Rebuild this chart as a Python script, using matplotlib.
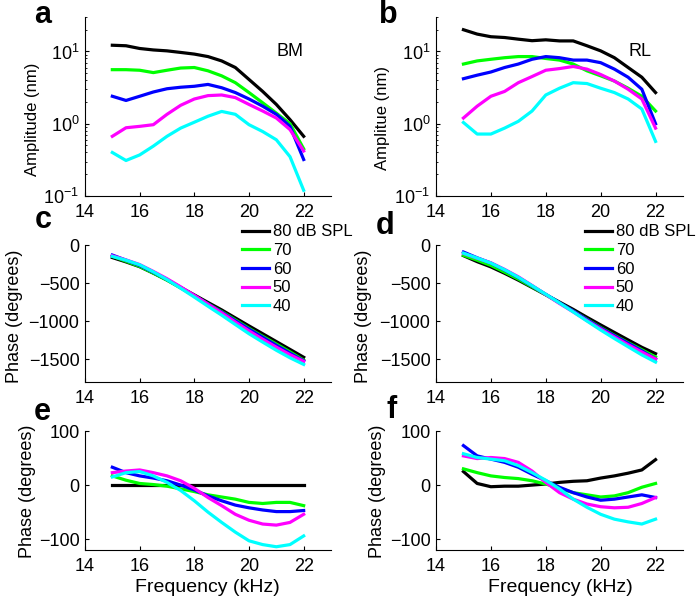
import numpy as np
import matplotlib.pyplot as plt

plt.rcParams['font.family'] = ['Liberation Sans', 'DejaVu Sans']
plt.rcParams['mathtext.fontset'] = 'custom'
plt.rcParams['mathtext.rm'] = 'Liberation Sans'
plt.rcParams['mathtext.default'] = 'regular'

# frequency grid (kHz)
freq = np.arange(15, 22.01, 0.5)

levels = ['80 dB SPL', '70', '60', '50', '40']
colors = ['#000000', '#00ff00', '#0000ff', '#ff00ff', '#00ffff']

# BM amplitude (nm)
bm_amp = [
    [12.2, 12.0, 11.0, 10.5, 10.2, 9.7, 9.2, 8.5, 7.4, 6.0, 4.1, 2.8, 1.85, 1.14, 0.67],
    [5.6, 5.6, 5.5, 5.1, 5.5, 5.9, 6.0, 5.4, 4.6, 3.7, 2.7, 1.95, 1.4, 1.0, 0.45],
    [2.4, 2.1, 2.4, 2.75, 3.05, 3.2, 3.3, 3.5, 3.15, 2.7, 2.2, 1.75, 1.35, 0.92, 0.32],
    [0.67, 0.88, 0.92, 0.97, 1.35, 1.8, 2.2, 2.45, 2.5, 2.3, 1.85, 1.5, 1.2, 0.83, 0.42],
    [0.40, 0.31, 0.37, 0.49, 0.67, 0.87, 1.05, 1.27, 1.48, 1.35, 0.97, 0.78, 0.6, 0.35, 0.12],
]

# RL amplitude (nm)
rl_amp = [
    [20, 17.4, 16, 15.6, 14.8, 14.1, 14.5, 14.0, 14.0, 12.0, 10.2, 8.2, 6.0, 4.4, 2.7],
    [6.7, 7.4, 7.8, 8.2, 8.5, 8.5, 8.0, 7.6, 6.7, 5.4, 4.6, 3.9, 3.1, 2.4, 1.5],
    [4.2, 4.7, 5.2, 6.0, 6.7, 7.8, 8.5, 8.2, 7.6, 7.6, 7.0, 5.7, 4.4, 3.0, 1.0],
    [1.2, 1.75, 2.4, 2.8, 3.7, 4.5, 5.5, 5.8, 6.2, 5.7, 4.8, 3.9, 3.0, 2.2, 0.87],
    [1.04, 0.72, 0.72, 0.87, 1.08, 1.5, 2.5, 3.1, 3.7, 3.6, 3.1, 2.7, 2.2, 1.6, 0.57],
]

# BM phase at 80 dB SPL (degrees)
bm80_phase = np.array([-165, -222, -285, -370, -460, -558, -656, -755,
                       -853, -958, -1063, -1166, -1269, -1372, -1475])

# BM phase relative to 80 dB SPL (panel e)
bm_rel = [
    [0] * 15,
    [17, 9, 3, 1, -2, -7, -12, -18, -22, -26, -32, -34, -32, -32, -38],
    [33, 23, 17, 13, 8, 0, -9, -20, -29, -37, -42, -46, -49, -49, -47],
    [23, 26, 28, 23, 17, 8, -6, -23, -38, -54, -65, -72, -74, -69, -54],
    [15, 23, 25, 17, 5, -10, -29, -50, -69, -87, -103, -110, -114, -110, -94],
]

# RL phase relative to BM 80 dB SPL (panel f)
rl_rel = [
    [25, 3, -3, -2, -2, 0, 2, 5, 7, 8, 13, 17, 22, 28, 47],
    [30, 23, 17, 14, 12, 8, 2, -6, -14, -18, -22, -20, -14, -4, 3],
    [73, 54, 48, 42, 33, 20, 8, -4, -14, -22, -28, -26, -22, -18, -23],
    [54, 49, 51, 49, 42, 26, 5, -14, -26, -35, -40, -42, -41, -34, -23],
    [58, 51, 48, 45, 36, 23, 9, -7, -26, -41, -54, -63, -68, -72, -63],
]

W, H = 700, 601
fig = plt.figure(figsize=(7, 6.01), dpi=100)


def px_axes(x0, x1, y0, y1):
    return fig.add_axes([x0 / W, 1 - y1 / H, (x1 - x0) / W, (y1 - y0) / H])


def style(ax):
    ax.spines['top'].set_visible(False)
    ax.spines['right'].set_visible(False)
    for s in ['left', 'bottom']:
        ax.spines[s].set_linewidth(0.8)
    ax.tick_params(direction='in', length=3, width=0.8, labelsize=13)
    ax.tick_params(axis='x', pad=6)
    ax.tick_params(axis='y', pad=4)
    ax.tick_params(which='minor', direction='in', length=1.5, width=0.6)
    ax.set_xlim(14, 23)
    ax.set_xticks([14, 16, 18, 20, 22])


lw = 2.3
ax_a = px_axes(85, 331, 17, 196)
ax_b = px_axes(436, 683, 17, 196)
ax_c = px_axes(85, 331, 245, 382)
ax_d = px_axes(436, 683, 245, 382)
ax_e = px_axes(85, 331, 431, 550)
ax_f = px_axes(436, 683, 431, 550)

for i in range(5):
    ax_a.plot(freq, bm_amp[i], color=colors[i], lw=lw)
    ax_b.plot(freq, rl_amp[i], color=colors[i], lw=lw)
    ax_c.plot(freq, bm80_phase + np.array(bm_rel[i]), color=colors[i], lw=lw, label=levels[i])
    ax_d.plot(freq, bm80_phase + np.array(rl_rel[i]), color=colors[i], lw=lw, label=levels[i])
    ax_e.plot(freq, bm_rel[i], color=colors[i], lw=lw)
    ax_f.plot(freq, rl_rel[i], color=colors[i], lw=lw)

for ax in [ax_a, ax_b]:
    ax.set_yscale('log')
    ax.set_ylim(0.1, 30)
    ax.set_yticks([0.1, 1, 10])
    style(ax)
for ax in [ax_c, ax_d]:
    ax.set_ylim(-1800, 0)
    ax.set_yticks([-1500, -1000, -500, 0])
    style(ax)
for ax in [ax_e, ax_f]:
    ax.set_ylim(-120, 100)
    ax.set_yticks([-100, 0, 100])
    style(ax)

ax_a.text(21.5, 10, 'BM', fontsize=13, ha='center', va='center')
ax_b.text(21.45, 10, 'RL', fontsize=13, ha='center', va='center')

leg_kw = dict(loc='upper left', frameon=False, fontsize=12, handlelength=1.65,
              handletextpad=0.2, labelspacing=0.22, borderpad=0, borderaxespad=0)
ax_c.legend(bbox_to_anchor=(0.638, 1.15), **leg_kw)
ax_d.legend(bbox_to_anchor=(0.603, 1.15), **leg_kw)


def ftext(x, y, s, **kw):
    fig.text(x / W, 1 - y / H, s, **kw)


# axis labels
ftext(33, 119, 'Amplitude (nm)', rotation=90, ha='center', va='center', fontsize=12)
ftext(383, 118, 'Amplitue (nm)', rotation=90, ha='center', va='center', fontsize=12)
ftext(15, 316, 'Phase (degrees)', rotation=90, ha='center', va='center', fontsize=13)
ftext(363, 316, 'Phase (degrees)', rotation=90, ha='center', va='center', fontsize=13)
ftext(28, 491, 'Phase (degrees)', rotation=90, ha='center', va='center', fontsize=13)
ftext(378, 491, 'Phase (degrees)', rotation=90, ha='center', va='center', fontsize=13)
ftext(207, 587, 'Frequency (kHz)', ha='center', va='center', fontsize=14)
ftext(560, 587, 'Frequency (kHz)', ha='center', va='center', fontsize=14)

# panel letters
for x, y, s in [(43, 15, 'a'), (388, 15, 'b'), (43, 220, 'c'),
                (385, 226, 'd'), (42, 412, 'e'), (392, 410, 'f')]:
    ftext(x, y, s, ha='center', va='center', fontsize=22, fontweight='bold')

fig.savefig('out.png', dpi=100)
